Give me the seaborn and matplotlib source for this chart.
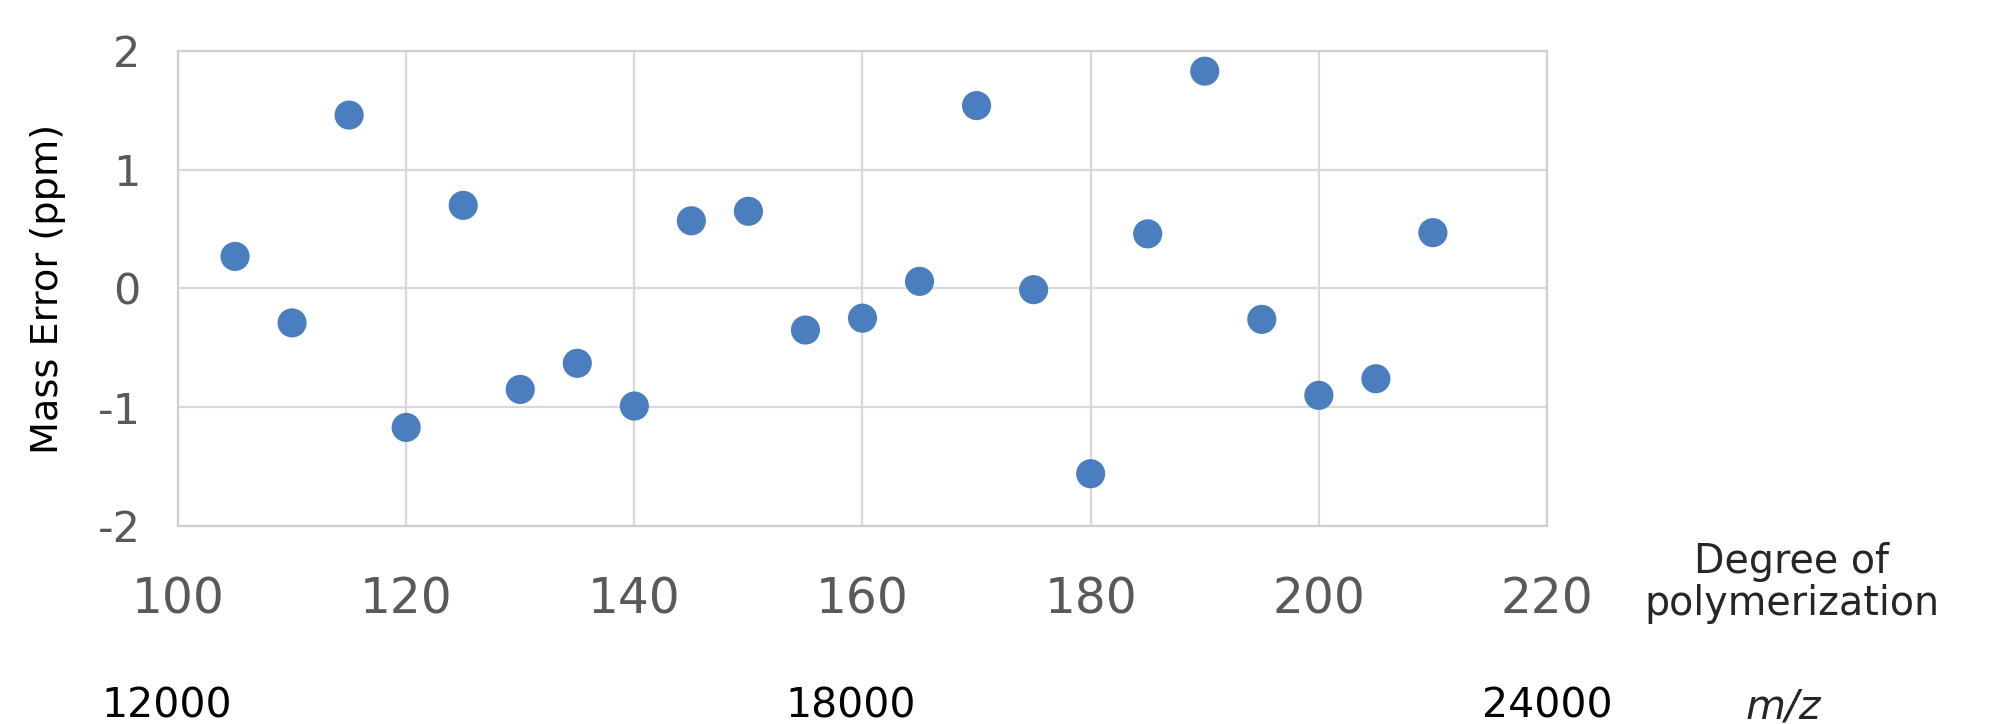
import matplotlib
matplotlib.use("Agg")
import matplotlib.pyplot as plt
import matplotlib.transforms as mtransforms
import seaborn as sns
import pandas as pd

# degree of polymerization and mass error (ppm)
dp = [105, 110, 115, 120, 125, 130, 135, 140, 145, 150, 155,
      160, 165, 170, 175, 180, 185, 190, 195, 200, 205, 210]
mass_error = [0.27, -0.29, 1.46, -1.17, 0.70, -0.85, -0.63, -0.99, 0.57, 0.65, -0.35,
              -0.25, 0.06, 1.54, -0.01, -1.56, 0.46, 1.83, -0.26, -0.90, -0.76, 0.47]

x_ticks = [100, 120, 140, 160, 180, 200, 220]
y_ticks = [-2, -1, 0, 1, 2]

# secondary m/z labels and the DP they sit under
mz_labels = ["12000", "18000", "24000"]
mz_dp = [99, 159, 220]

df = pd.DataFrame({"dp": dp, "err": mass_error})

sns.set_style("whitegrid")
plt.rcParams['font.family'] = ['DejaVu Sans']

fig = plt.figure(figsize=(20, 7.24), dpi=100)
ax = fig.add_axes([0.089, 0.2735, 0.6845, 0.6561])

sns.scatterplot(data=df, x="dp", y="err", ax=ax, s=440, color="#4A7EBE",
                edgecolor="none", zorder=3)

ax.set_xlim(100, 220)
ax.set_ylim(-2, 2)
ax.set_xticks(x_ticks)
ax.set_yticks(y_ticks)
ax.set_yticklabels([str(v) for v in y_ticks])
ax.grid(True, color="#D9D9D9", linewidth=1.6)
for side in ["left", "bottom", "top", "right"]:
    ax.spines[side].set_color("#D0D0D0")
    ax.spines[side].set_linewidth(1.6)

ax.tick_params(axis="x", labelsize=35, colors="#595959", pad=36, length=0)
ax.tick_params(axis="y", labelsize=31, colors="#595959", pad=27, length=0)

ax.set_xlabel("")
ax.set_ylabel("Mass Error (ppm)", fontsize=27.5, color="black")
ax.yaxis.set_label_coords(-0.082, 0.5)

trans = mtransforms.blended_transform_factory(ax.transData, fig.transFigure)
for lab, pos in zip(mz_labels, mz_dp):
    ax.text(pos, 1 - 707 / 724, lab, transform=trans, fontsize=29.5,
            ha="center", va="center", color="black")

fig.text(1792 / 2000, 1 - 583 / 724, "Degree of\npolymerization", fontsize=28.5,
         ha="center", va="center", linespacing=1.05)
fig.text(1783 / 2000, 1 - 707 / 724, "m/z", fontsize=29.5, style="italic",
         ha="center", va="center")

fig.savefig("out.png", dpi=100, facecolor="white")
